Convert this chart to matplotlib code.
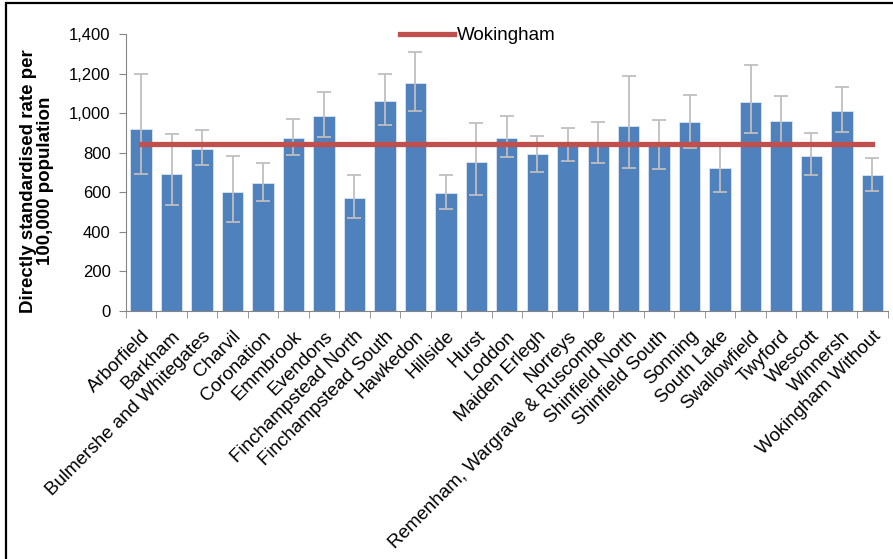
import matplotlib
matplotlib.use("Agg")
import matplotlib.pyplot as plt
import numpy as np
from matplotlib.patches import Rectangle

wards = ["Arborfield", "Barkham", "Bulmershe and Whitegates", "Charvil", "Coronation",
         "Emmbrook", "Evendons", "Finchampstead North", "Finchampstead South", "Hawkedon",
         "Hillside", "Hurst", "Loddon", "Maiden Erlegh", "Norreys",
         "Remenham, Wargrave & Ruscombe", "Shinfield North", "Shinfield South", "Sonning",
         "South Lake", "Swallowfield", "Twyford", "Wescott", "Winnersh", "Wokingham Without"]
rate = [921, 694, 817, 602, 648, 874, 986, 570, 1063, 1154, 597, 751, 876, 791, 839,
        839, 933, 834, 954, 721, 1057, 960, 785, 1013, 687]
upper = [1198, 893, 913, 783, 749, 970, 1107, 685, 1198, 1309, 685, 952, 984, 886, 925,
         957, 1186, 964, 1094, 834, 1244, 1089, 900, 1134, 775]
lower = [692, 535, 737, 451, 555, 788, 879, 471, 938, 1009, 516, 587, 776, 704, 758,
         749, 724, 719, 822, 601, 901, 850, 685, 906, 608]
wokingham = 845

x = np.arange(len(wards))
rate_arr = np.array(rate)
yerr = [rate_arr - np.array(lower), np.array(upper) - rate_arr]

fig = plt.figure(figsize=(8.93, 5.59), dpi=100)
ax = fig.add_axes([0.141, 0.4437, 0.853, 0.4955])

ax.bar(x, rate, width=0.70, color="#4F81BD", edgecolor="#DCE6F2", linewidth=0.6, zorder=2)
ax.errorbar(x, rate, yerr=yerr, fmt="none", ecolor="#BFBFBF", elinewidth=1.3,
            capsize=5, capthick=1.3, zorder=3)
ax.plot(x, [wokingham] * len(x), color="#C0504D", linewidth=3.8, label="Wokingham", zorder=4)

ax.set_xlim(-0.5, len(wards) - 0.5)
ax.set_ylim(0, 1400)
ax.set_yticks(range(0, 1401, 200))
ax.set_yticklabels([f"{v:,}" for v in range(0, 1401, 200)],
                   family="Liberation Sans", fontsize=12)
ax.set_xticks(x)
ax.set_xticklabels(wards, rotation=45, ha="right", rotation_mode="anchor",
                   family="Liberation Sans", fontsize=13.5)
ax.set_xticks(np.arange(-0.5, len(wards)), minor=True)
ax.tick_params(axis="x", which="major", length=0, pad=12)
ax.tick_params(axis="x", which="minor", length=5, color="#868686")
ax.tick_params(axis="y", length=5, color="#868686", pad=6)

for s in ["top", "right"]:
    ax.spines[s].set_visible(False)
ax.spines["left"].set_color("#868686")
ax.spines["bottom"].set_color("#868686")

ax.set_ylabel("Directly standardised rate per\n100,000 population", family="Liberation Sans",
              fontweight="bold", fontsize=13.5, linespacing=1.0)
ax.yaxis.set_label_coords(-0.094, 0.47)

ax.legend(loc="upper center", bbox_to_anchor=(0.462, 1.085), frameon=False,
          handlelength=2.9, handletextpad=0.15,
          prop={"family": "Liberation Sans", "size": 13.5})

fig.patches.append(Rectangle((0.0067, -0.1), 1.2, 1.0946, transform=fig.transFigure,
                             fill=False, edgecolor="black", linewidth=1.6))

fig.savefig("out.png", dpi=100)
